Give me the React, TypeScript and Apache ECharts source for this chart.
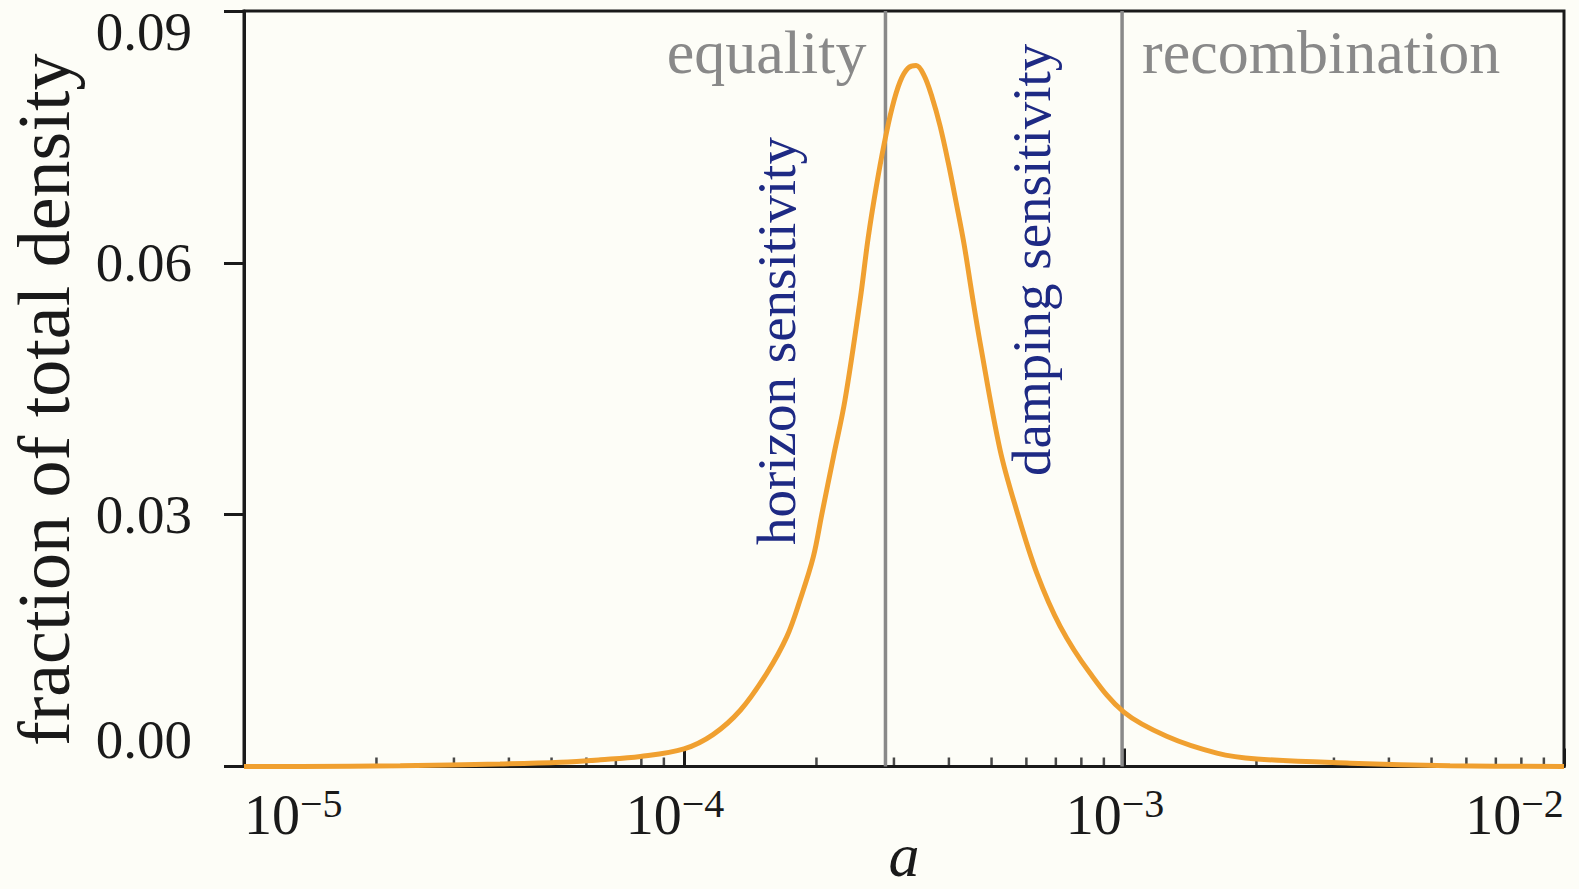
import React, { useEffect, useRef } from "react";
import * as echarts from "echarts";

// Scale factor a and the fraction of the total density at each a
const scaleFactor: number[] = [
  1.0e-5, 1.343e-5, 2.265e-5, 3.82e-5, 5.24e-5, 6.46e-5, 7.96e-5, 1.0e-4,
  1.164e-4, 1.343e-4, 1.542e-4, 1.714e-4, 1.837e-4, 1.968e-4, 2.056e-4,
  2.188e-4, 2.323e-4, 2.514e-4, 2.622e-4, 2.734e-4, 2.851e-4, 2.972e-4,
  3.099e-4, 3.232e-4, 3.37e-4, 3.514e-4, 3.664e-4, 3.82e-4, 3.984e-4,
  4.154e-4, 4.331e-4, 4.516e-4, 4.709e-4, 5.224e-4, 5.702e-4, 6.339e-4,
  7.161e-4, 8.375e-4, 9.977e-4, 1.25e-3, 1.626e-3, 2.004e-3, 3.266e-3,
  5.508e-3, 1.0e-2,
];
const densityFraction: number[] = [
  0, 0.0, 0.0001, 0.0003, 0.0005, 0.0008, 0.0012, 0.0021, 0.0038, 0.0067,
  0.0111, 0.0155, 0.0199, 0.025, 0.03, 0.037, 0.0437, 0.0556, 0.063, 0.069,
  0.0742, 0.0785, 0.0816, 0.0832, 0.0835, 0.0823, 0.0797, 0.0763, 0.072,
  0.0672, 0.0622, 0.0562, 0.0505, 0.0378, 0.0305, 0.023, 0.0167, 0.0111,
  0.0065, 0.0036, 0.0016, 0.0009, 0.0004, 0.0001, 0.0,
];

// Axis ranges and ticks
const xMin = 1e-5;
const xMax = 1e-2;
const yTicks: number[] = [0, 0.03, 0.06, 0.09];
const minorDecades: number[] = [1e-5, 1e-4, 1e-3];
const minorMultipliers: number[] = [2, 3, 4, 5, 6, 7, 8, 9];

// Epochs marked by vertical lines
const aEquality = 2.87e-4;
const aRecombination = 9.9e-4;
const epochLabels: string[] = ["equality", "recombination"];
const sensitivityLabels: string[] = ["horizon sensitivity", "damping sensitivity"];

const BG = "#fdfdf7";
const INK = "#1a1a1a";
const ORANGE = "#f0a030";
const GRAY = "#898989";
const NAVY = "#1e2a84";
const SERIF = "'Liberation Serif', 'Times New Roman', serif";

const GRID = { left: 244, right: 15, top: 11, bottom: 122.5 };

const curve = scaleFactor.map((a, i) => [a, densityFraction[i]]);
const minorTicks: number[][] = [];
minorDecades.forEach((d) =>
  minorMultipliers.forEach((m) => minorTicks.push([m * d, 0]))
);
const yTop = yTicks[yTicks.length - 1];
const epochLine = (a: number) => ({
  type: "line",
  data: [
    [a, yTicks[0]],
    [a, yTop],
  ],
  showSymbol: false,
  silent: true,
  lineStyle: { color: GRAY, width: 3.5 },
  z: 2,
});

export default function App() {
  const ref = useRef<HTMLDivElement>(null);

  useEffect(() => {
    if (!ref.current) return;
    const chart = echarts.init(ref.current, null, { renderer: "svg" });

    chart.setOption({
      animation: false,
      backgroundColor: BG,
      grid: {
        ...GRID,
        show: true,
        borderColor: INK,
        borderWidth: 3,
        backgroundColor: BG,
        containLabel: false,
        outerBoundsMode: "none",
      },
      xAxis: {
        type: "log",
        logBase: 10,
        min: xMin,
        max: xMax,
        name: "a",
        nameLocation: "middle",
        nameGap: 68,
        nameMoveOverlap: false,
        nameTextStyle: {
          fontFamily: SERIF,
          fontStyle: "italic",
          fontSize: 62,
          lineHeight: 40,
          color: INK,
        },
        axisLine: { show: true, lineStyle: { color: INK, width: 3 } },
        axisTick: { show: true, inside: true, length: 18, lineStyle: { color: INK, width: 3 } },
        splitLine: { show: false },
        minorTick: { show: false },
        axisLabel: {
          margin: 17,
          alignMinLabel: "left",
          formatter: (v: number) => {
            const e = Math.round(Math.log10(v));
            if (e === -5) return `{b|10}{s|\u2212${-e}}`;
            if (e === -2) return `{b|10}{sm|\u2212${-e}}`;
            return `{b|10}{sp|\u2212${-e}}`;
          },
          rich: {
            b: { fontFamily: SERIF, fontSize: 56, color: INK },
            s: { fontFamily: SERIF, fontSize: 40, color: INK, padding: [0, 0, 22, 0] },
            sp: { fontFamily: SERIF, fontSize: 40, color: INK, padding: [0, 18, 22, 0] },
            sm: { fontFamily: SERIF, fontSize: 40, color: INK, padding: [0, 99, 22, 0] },
          },
        },
      },
      yAxis: {
        type: "value",
        min: yTicks[0],
        max: yTop,
        interval: yTicks[1] - yTicks[0],
        name: "fraction of total density",
        nameLocation: "middle",
        nameGap: 163,
        nameMoveOverlap: false,
        nameTextStyle: {
          fontFamily: SERIF,
          fontSize: 74,
          color: INK,
          padding: [0, 22, 0, 0],
        },
        axisLine: { show: true, lineStyle: { color: INK, width: 3 } },
        axisTick: { show: true, inside: false, length: 20, lineStyle: { color: INK, width: 3 } },
        splitLine: { show: false },
        axisLabel: {
          margin: 52,
          fontFamily: SERIF,
          fontSize: 55,
          color: INK,
          verticalAlignMinLabel: "bottom",
          verticalAlignMaxLabel: "top",
          formatter: (v: number) =>
            Math.abs(v - yTop) < 1e-9 ? `{t|${v.toFixed(2)}}` : v.toFixed(2),
          rich: {
            t: { fontFamily: SERIF, fontSize: 55, color: INK, lineHeight: 40 },
          },
        },
      },
      series: [
        {
          type: "scatter",
          data: minorTicks,
          symbol: "rect",
          symbolSize: [2.5, 9],
          symbolOffset: [0, -4.5],
          itemStyle: { color: INK },
          silent: true,
          z: 1,
        },
        epochLine(aEquality),
        epochLine(aRecombination),
        {
          type: "line",
          data: curve,
          smooth: 0.35,
          showSymbol: false,
          lineStyle: { color: ORANGE, width: 5 },
          z: 3,
        },
      ],
    });

    const px = (a: number, v: number) =>
      chart.convertToPixel({ gridIndex: 0 }, [a, v]) as number[];
    const eqX = px(aEquality, 0)[0];
    const recX = px(aRecombination, 0)[0];
    const labelMid = GRID.top + 62 - 0.3375 * 62;

    chart.setOption({
      graphic: [
        {
          type: "text",
          x: eqX - 19,
          y: labelMid,
          style: {
            text: epochLabels[0],
            fontFamily: SERIF,
            fontSize: 62,
            fill: GRAY,
            align: "right",
            verticalAlign: "middle",
          },
          z: 10,
        },
        {
          type: "text",
          x: recX + 20,
          y: labelMid,
          style: {
            text: epochLabels[1],
            fontFamily: SERIF,
            fontSize: 62,
            fill: GRAY,
            align: "left",
            verticalAlign: "middle",
          },
          z: 10,
        },
        {
          type: "text",
          x: 795 - 0.3375 * 55,
          y: 545,
          rotation: Math.PI / 2,
          style: {
            text: sensitivityLabels[0],
            fontFamily: SERIF,
            fontSize: 55,
            fill: NAVY,
            align: "left",
            verticalAlign: "middle",
          },
          z: 10,
        },
        {
          type: "text",
          x: 1050 - 0.3375 * 55,
          y: 476,
          rotation: Math.PI / 2,
          style: {
            text: sensitivityLabels[1],
            fontFamily: SERIF,
            fontSize: 55,
            fill: NAVY,
            align: "left",
            verticalAlign: "middle",
          },
          z: 10,
        },
      ],
    });

    return () => chart.dispose();
  }, []);

  return (
    <div
      ref={ref}
      style={{
        position: "absolute",
        left: 0,
        top: 0,
        width: 1579,
        height: 889,
        background: BG,
      }}
    />
  );
}
